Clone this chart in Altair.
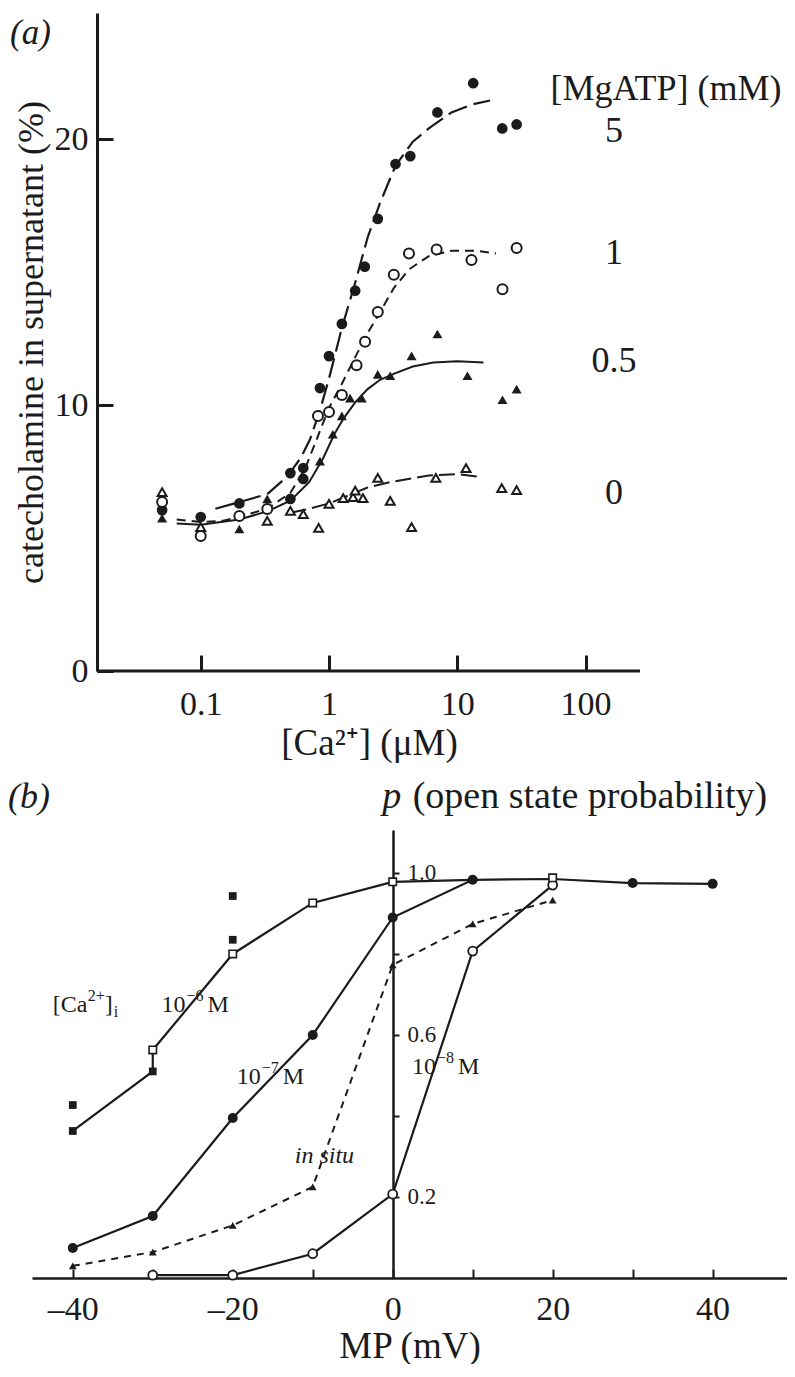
import altair as alt
import pandas as pd

FONT = "Liberation Serif"
INK = "#1b1b1b"

# ---------------- panel (a) data : [Ca2+] (uM) vs catecholamine (%) ----------------
# [MgATP] 5 mM  (filled circles)
a5_x = [0.05, 0.1, 0.2, 0.5, 0.5, 0.63, 0.63, 0.85, 1.0, 1.26, 1.6, 1.9, 2.4, 3.3, 4.3, 7.0, 13.3, 22.4, 29]
a5_y = [6.05, 5.79, 6.3, 6.47, 7.44, 7.63, 7.22, 10.64, 11.84, 13.05, 14.3, 15.2, 17.0, 19.06, 19.36, 21.0, 22.1, 20.4, 20.55]
# [MgATP] 1 mM  (open circles)
a1_x = [0.05, 0.1, 0.2, 0.33, 0.82, 1.0, 1.26, 1.64, 1.91, 2.4, 3.2, 4.2, 6.9, 12.9, 22.5, 29]
a1_y = [6.35, 5.08, 5.83, 6.09, 9.59, 9.74, 10.38, 11.5, 12.38, 13.5, 14.9, 15.7, 15.85, 15.45, 14.35, 15.9]
# [MgATP] 0.5 mM  (filled triangles)
a05_x = [0.05, 0.2, 0.33, 0.85, 1.07, 1.26, 1.46, 1.8, 2.4, 3.0, 4.4, 7.0, 12, 22.5, 29]
a05_y = [5.75, 5.34, 6.47, 7.89, 8.9, 9.59, 10.26, 10.26, 11.15, 11.1, 11.85, 12.67, 11.1, 10.2, 10.6]
# [MgATP] 0 mM  (open triangles)
a0_x = [0.05, 0.1, 0.33, 0.5, 0.63, 0.83, 1.0, 1.29, 1.54, 1.6, 1.84, 2.4, 3.0, 4.4, 6.8, 11.7, 22.2, 29]
a0_y = [6.73, 5.41, 5.64, 6.02, 5.9, 5.38, 6.28, 6.5, 6.54, 6.78, 6.5, 7.26, 6.4, 5.41, 7.26, 7.63, 6.88, 6.8]

# fitted curves as drawn
c5_x = [0.13, 0.2, 0.33, 0.47, 0.6, 0.71, 0.85, 1.0, 1.26, 1.6, 2.0, 2.5, 3.3, 4.5, 6, 9, 13, 18]
c5_y = [6.1, 6.35, 6.65, 7.3, 8.0, 8.7, 9.8, 11.0, 12.9, 14.6, 16.3, 17.6, 19.0, 19.9, 20.4, 21.0, 21.3, 21.45]
c1_x = [0.065, 0.1, 0.15, 0.2, 0.33, 0.5, 0.65, 0.8, 1.0, 1.26, 1.6, 2.0, 2.5, 3.2, 4.2, 6, 9, 14, 20]
c1_y = [5.7, 5.6, 5.65, 5.8, 6.1, 6.7, 7.6, 8.7, 9.9, 10.8, 11.8, 12.7, 13.5, 14.4, 15.1, 15.6, 15.8, 15.8, 15.7]
c05_x = [0.065, 0.1, 0.2, 0.33, 0.5, 0.7, 0.9, 1.1, 1.3, 1.6, 2.0, 2.5, 3.3, 4.5, 6.5, 10, 16]
c05_y = [5.55, 5.5, 5.7, 6.0, 6.4, 7.1, 8.0, 8.9, 9.5, 10.1, 10.6, 10.95, 11.2, 11.45, 11.6, 11.65, 11.6]
c0_x = [0.5, 0.7, 1.0, 1.5, 2.0, 3.0, 4.5, 6.0, 10, 15]
c0_y = [5.95, 6.1, 6.3, 6.65, 6.9, 7.1, 7.25, 7.35, 7.4, 7.3]

a_xticks = [0.1, 1, 10, 100]
a_yticks = [0, 10, 20]
a_axis_start = 0.01555    # where the [Ca2+] axis line starts (and the % axis stands)
a_axis_end = 265.5        # where the [Ca2+] axis line ends
mg_labels = ["5", "1", "0.5", "0"]
mg_label_y = [20.3, 15.7, 11.65, 6.7]

# ---------------- panel (b) data : MP (mV) vs open state probability ----------------
b_fcirc_x = [-40, -30, -20, -10, 0, 10, 30, 40]
b_fcirc_y = [0.074, 0.153, 0.395, 0.60, 0.89, 0.983, 0.975, 0.973]
b_ocirc_x = [-30, -20, -10, 0, 10, 20]
b_ocirc_y = [0.007, 0.007, 0.06, 0.207, 0.807, 0.97]
b_osq_x = [-30, -20, -10, 0, 20]
b_osq_y = [0.563, 0.80, 0.926, 0.978, 0.988]
b_fsq_x = [-40, -40, -30, -20, -20]
b_fsq_y = [0.427, 0.363, 0.51, 0.835, 0.943]
b_ftri_x = [-40, -30, -20, -10, 0, 10, 20]
b_ftri_y = [0.03, 0.064, 0.13, 0.225, 0.773, 0.874, 0.933]

b_l6_x = [-40, -30, -30, -20, -10, 0, 10]
b_l6_y = [0.363, 0.51, 0.563, 0.80, 0.926, 0.978, 0.983]
b_l7_x = [-40, -30, -20, -10, 0, 10, 20, 30, 40]
b_l7_y = [0.074, 0.153, 0.395, 0.60, 0.89, 0.983, 0.985, 0.975, 0.973]

b_xticks = [-40, -30, -20, -10, 0, 10, 20, 30, 40]
b_yticks = [0.2, 0.4, 0.6, 0.8, 1.0]

# concentration labels: "10", superscript exponent, "M"
conc_x = [-28.9, -19.5, 2.4]
conc_y = [0.674, 0.496, 0.52]
conc_exp = ["−6", "−7", "−8"]
ca_x = [-42.5]
ca_y = [0.674]

# ====================================================================================
def df(xs, ys, **extra):
    d = pd.DataFrame({"x": xs, "y": ys})
    for k, v in extra.items():
        d[k] = v
    return d


KEEP = dict(opacity=alt.value(1))

# ---------------- panel (a) ----------------
WA, HA = 608, 658
AX_A = 65   # pixel position of the catecholamine axis inside the panel
xa = alt.Scale(type="log", domain=[0.00484, 265.5], nice=False)
ya = alt.Scale(domain=[0, 24.74], nice=False, zero=False)
TICK_A = 16  # inward tick length (px)

enc_xa = alt.X("x:Q", scale=xa, title="[Ca²⁺] (μM)",
               axis=alt.Axis(values=a_xticks, format="~g", grid=False, domain=False,
                             ticks=True, tickSize=alt.ExprRef(expr=str(-TICK_A)), tickWidth=3, tickColor=INK,
                             labelPadding=16 + TICK_A, labelFont=FONT, labelFontSize=34, labelColor=INK,
                             titleFont=FONT, titleFontSize=37, titleFontWeight="normal",
                             titleColor=INK, titlePadding=4, titleX=337, titleAlign="center"))
enc_ya = alt.Y("y:Q", scale=ya, title="catecholamine in supernatant (%)",
               axis=alt.Axis(values=a_yticks, grid=False, offset=-AX_A,
                             ticks=True, tickSize=alt.ExprRef(expr=str(-TICK_A)), tickWidth=3, tickColor=INK,
                             domainColor=INK, domainWidth=3, labelPadding=9 + TICK_A,
                             labelFont=FONT, labelFontSize=34, labelColor=INK,
                             titleFont=FONT, titleFontSize=36, titleFontWeight="normal",
                             titleColor=INK, titlePadding=4))

axis_line_a = alt.Chart(pd.DataFrame({"x": [a_axis_start], "x2": [a_axis_end], "y": [0]})).mark_rule(
    color=INK, strokeWidth=3).encode(x=enc_xa, x2="x2:Q", y=enc_ya)

curve5 = alt.Chart(df(c5_x, c5_y)).mark_line(color=INK, strokeWidth=2.2, strokeDash=[20, 7]).encode(**KEEP)
curve1 = alt.Chart(df(c1_x, c1_y)).mark_line(color=INK, strokeWidth=2, strokeDash=[9, 6]).encode(**KEEP)
curve05 = alt.Chart(df(c05_x, c05_y)).mark_line(color=INK, strokeWidth=2).encode(**KEEP)
curve0 = alt.Chart(df(c0_x, c0_y)).mark_line(color=INK, strokeWidth=2, strokeDash=[16, 6]).encode(**KEEP)

p5 = alt.Chart(df(a5_x, a5_y)).mark_point(shape="circle", filled=True, color=INK, size=115).encode(**KEEP)
p1 = alt.Chart(df(a1_x, a1_y)).mark_point(shape="circle", filled=True, fill="white", stroke=INK,
                                          strokeWidth=2, size=100).encode(**KEEP)
p05 = alt.Chart(df(a05_x, a05_y)).mark_point(shape="triangle-up", filled=True, color=INK, size=100).encode(**KEEP)
p0 = alt.Chart(df(a0_x, a0_y)).mark_point(shape="triangle-up", filled=True, fill="white", stroke=INK,
                                          strokeWidth=2, size=80).encode(**KEEP)

mg_txt = alt.Chart(pd.DataFrame({"x": [166.5] * 4, "y": mg_label_y, "t": mg_labels})).mark_text(
    font=FONT, fontSize=36, color=INK, align="center", baseline="middle").encode(text="t:N")
mg_head = alt.Chart(pd.DataFrame({"x": [424.0], "y": [21.9], "t": ["[MgATP] (mM)"]})).mark_text(
    font=FONT, fontSize=36, color=INK, align="center", baseline="middle").encode(text="t:N")
lab_a = alt.Chart(pd.DataFrame({"t": ["(a)"]})).mark_text(
    font=FONT, fontSize=35, fontStyle="italic", color=INK, align="left", baseline="middle").encode(
    x=alt.value(-22), y=alt.value(20), text="t:N")

panel_a = alt.layer(axis_line_a, curve5, curve1, curve05, curve0, p5, p1, p05, p0,
                    mg_txt, mg_head, lab_a).encode(x=enc_xa, y=enc_ya).properties(width=WA, height=HA)

# ---------------- panel (b) ----------------
WB, HB = 755, 448
xb = alt.Scale(domain=[-45.1, 49.3], nice=False, zero=False)
yb = alt.Scale(domain=[0, 1.106], nice=False, zero=False)
Y0_PIX = 361        # pixel position of MP = 0 inside the plot (where the p axis stands)
TICK_B = 9          # inward tick length (px)

enc_xb = alt.X("x:Q", scale=xb, title="MP (mV)",
               axis=alt.Axis(values=b_xticks, grid=False,
                             ticks=True, tickSize=alt.ExprRef(expr=str(-TICK_B)), tickWidth=2, tickColor=INK,
                             labelExpr="datum.value % 20 != 0 ? '' : (datum.value < 0 ? '–' + format(-datum.value, 'd') : format(datum.value, 'd'))",
                             domainColor=INK, domainWidth=2.5, labelPadding=14 + TICK_B,
                             labelFont=FONT, labelFontSize=34, labelColor=INK,
                             titleFont=FONT, titleFontSize=37, titleFontWeight="normal",
                             titleColor=INK, titlePadding=2))
enc_yb = alt.Y("y:Q", scale=yb, title=None,
               axis=alt.Axis(orient="right", offset=-(WB - Y0_PIX), values=b_yticks, grid=False,
                             labelExpr="(round(datum.value*10) % 4 == 0) ? '' : format(datum.value, '.1f')",
                             domainColor=INK, domainWidth=2.5, tickColor=INK, tickWidth=2, tickSize=6,
                             labelPadding=8, labelFont=FONT, labelFontSize=23, labelColor=INK))

l6 = alt.Chart(df(b_l6_x, b_l6_y, i=list(range(len(b_l6_x))))).mark_line(color=INK, strokeWidth=2.2).encode(order="i:Q")
l7 = alt.Chart(df(b_l7_x, b_l7_y, i=list(range(len(b_l7_x))))).mark_line(color=INK, strokeWidth=2.2).encode(order="i:Q")
lin = alt.Chart(df(b_ftri_x, b_ftri_y)).mark_line(color=INK, strokeWidth=2, strokeDash=[7, 6]).encode(**KEEP)
l8 = alt.Chart(df(b_ocirc_x, b_ocirc_y)).mark_line(color=INK, strokeWidth=2.2).encode(**KEEP)

q_fc = alt.Chart(df(b_fcirc_x, b_fcirc_y)).mark_point(shape="circle", filled=True, color=INK, size=100).encode(**KEEP)
q_oc = alt.Chart(df(b_ocirc_x, b_ocirc_y)).mark_point(shape="circle", filled=True, fill="white", stroke=INK,
                                                      strokeWidth=1.8, size=80).encode(**KEEP)
q_os = alt.Chart(df(b_osq_x, b_osq_y)).mark_point(shape="square", filled=True, fill="white", stroke=INK,
                                                  strokeWidth=1.6, size=55).encode(**KEEP)
q_fs = alt.Chart(df(b_fsq_x, b_fsq_y)).mark_point(shape="square", filled=True, color=INK, size=60).encode(**KEEP)
q_ft = alt.Chart(df(b_ftri_x, b_ftri_y)).mark_point(shape="triangle-up", filled=True, color=INK, size=60).encode(**KEEP)

SMALL = 24
SUP = 16


def label(xs, ys, texts, size=SMALL, dx=0, dy=0, style="normal"):
    return alt.Chart(pd.DataFrame({"x": xs, "y": ys, "t": texts})).mark_text(
        font=FONT, fontSize=size, fontStyle=style, color=INK, align="left", baseline="middle",
        dx=dx, dy=dy).encode(text="t:N")


n = len(conc_x)
conc_ten = label(conc_x, conc_y, ["10"] * n)
conc_sup = label(conc_x, conc_y, conc_exp, size=SUP, dx=25, dy=-9)
conc_m = label(conc_x, conc_y, ["M"] * n, dx=46)
ca_a = label(ca_x, ca_y, ["[Ca"])
ca_b = label(ca_x, ca_y, ["2+"], size=SUP, dx=35, dy=-9)
ca_c = label(ca_x, ca_y, ["]"], dx=52)
ca_d = label(ca_x, ca_y, ["i"], size=SUP, dx=61, dy=7)
insitu = label([-12.25], [0.30], ["in situ"], style="italic")

p_it = alt.Chart(pd.DataFrame({"x": [-1.3], "t": ["p"]})).mark_text(
    font=FONT, fontSize=38, fontStyle="italic", color=INK, align="left", baseline="middle").encode(
    y=alt.value(-33), text="t:N")
p_rest = alt.Chart(pd.DataFrame({"x": [2.5], "t": ["(open state probability)"]})).mark_text(
    font=FONT, fontSize=38, color=INK, align="left", baseline="middle").encode(
    y=alt.value(-33), text="t:N")
lab_b = alt.Chart(pd.DataFrame({"t": ["(b)"]})).mark_text(
    font=FONT, fontSize=36, fontStyle="italic", color=INK, align="left", baseline="middle").encode(
    x=alt.value(-24), y=alt.value(-33), text="t:N")

panel_b = alt.layer(l7, l6, lin, l8, q_fc, q_oc, q_os, q_fs, q_ft,
                    conc_ten, conc_sup, conc_m, ca_a, ca_b, ca_c, ca_d, insitu,
                    p_it, p_rest, lab_b).encode(x=enc_xb, y=enc_yb).properties(width=WB, height=HB)

chart = alt.vconcat(panel_a, panel_b, spacing=17).properties(
    padding={"left": 0, "top": 5, "right": 0, "bottom": 0}, background="white"
).configure_view(strokeWidth=0)

chart.save("out.html", embed_options={"renderer": "svg", "actions": False})
